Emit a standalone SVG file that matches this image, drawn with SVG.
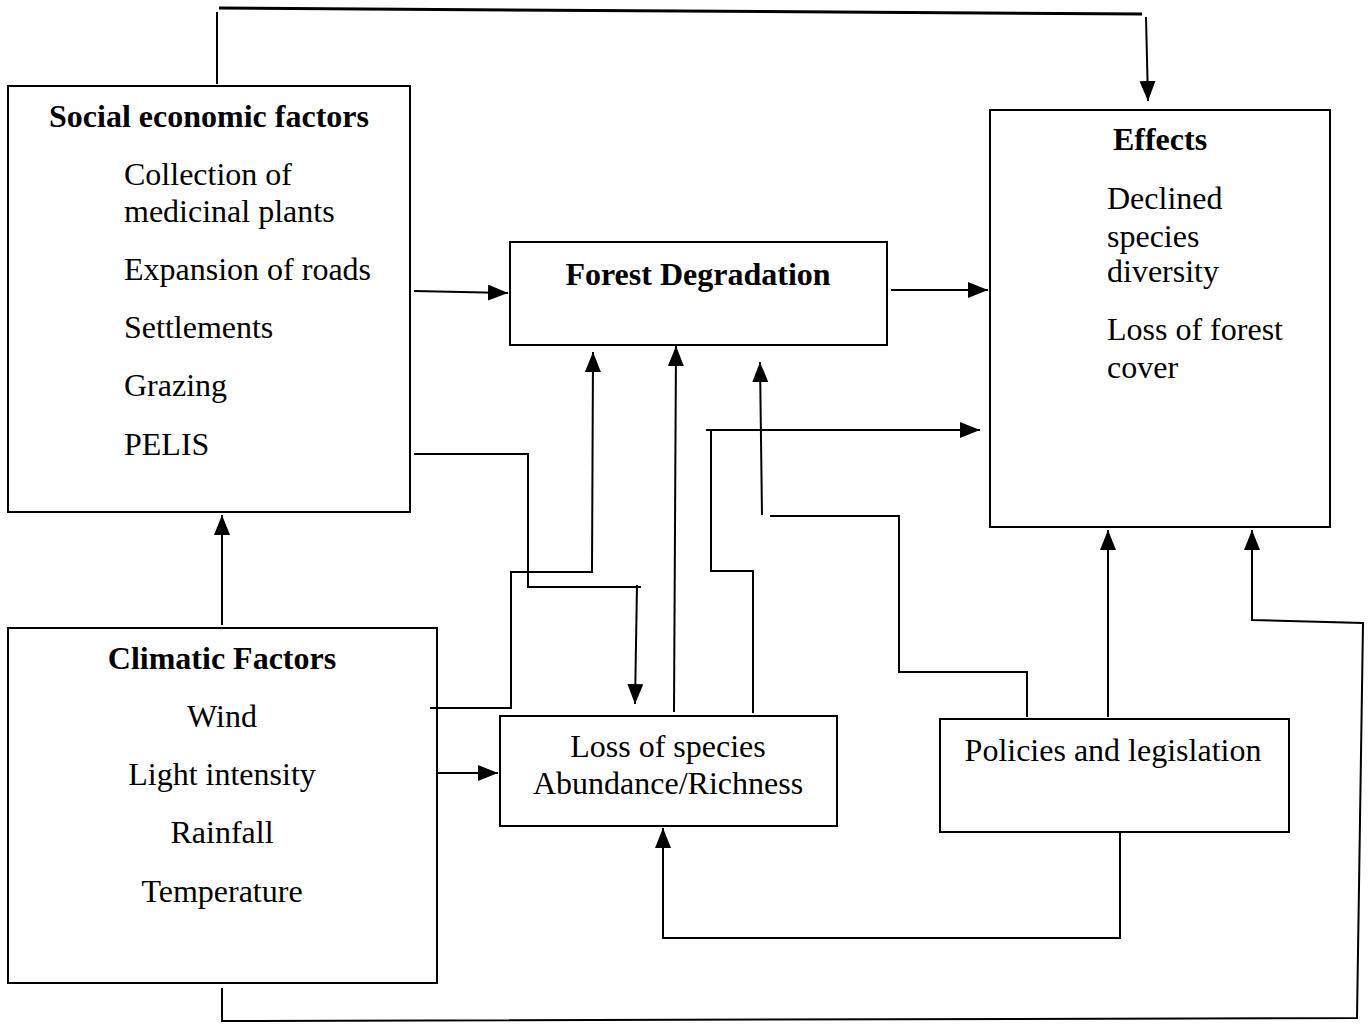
<svg xmlns="http://www.w3.org/2000/svg" width="1368" height="1025" viewBox="0 0 1368 1025">
<style>
.box{fill:#fff;stroke:#000;stroke-width:2}
.t{font-family:"Liberation Serif","Times New Roman",serif;font-size:32px;fill:#000}
.b{font-weight:bold}
.c{text-anchor:middle}
.ln{fill:none;stroke:#000;stroke-width:2}
</style>
<defs>
<marker id="ah" markerUnits="userSpaceOnUse" markerWidth="22" markerHeight="18" refX="20" refY="8" orient="auto">
<path d="M0,0 L20,8 L0,16 z" fill="#000"/>
</marker>
</defs>
<rect width="1368" height="1025" fill="#fff"/>
<g id="social">
<rect class="box" x="8" y="86" width="402" height="426"/>
<text class="t b c" x="209" y="127">Social economic factors</text>
<text class="t" x="124" y="185">Collection of</text>
<text class="t" x="124" y="222">medicinal plants</text>
<text class="t" x="124" y="280">Expansion of roads</text>
<text class="t" x="124" y="338">Settlements</text>
<text class="t" x="124" y="396">Grazing</text>
<text class="t" x="124" y="455">PELIS</text>
</g>
<g id="effects">
<rect class="box" x="990" y="110" width="340" height="417"/>
<text class="t b c" x="1160" y="150">Effects</text>
<text class="t" x="1107" y="209">Declined</text>
<text class="t" x="1107" y="247">species</text>
<text class="t" x="1107" y="282">diversity</text>
<text class="t" x="1107" y="340">Loss of forest</text>
<text class="t" x="1107" y="378">cover</text>
</g>
<g id="forest">
<rect class="box" x="510" y="242" width="377" height="103"/>
<text class="t b c" x="698" y="285">Forest Degradation</text>
</g>
<g id="climatic">
<rect class="box" x="8" y="628" width="429" height="355"/>
<text class="t b c" x="222" y="669">Climatic Factors</text>
<text class="t c" x="222" y="727">Wind</text>
<text class="t c" x="222" y="785">Light intensity</text>
<text class="t c" x="222" y="843">Rainfall</text>
<text class="t c" x="222" y="902">Temperature</text>
</g>
<g id="loss">
<rect class="box" x="500" y="716" width="337" height="110"/>
<text class="t c" x="668" y="757">Loss of species</text>
<text class="t c" x="668" y="794">Abundance/Richness</text>
</g>
<g id="policies">
<rect class="box" x="940" y="719" width="349" height="113"/>
<text class="t c" x="1113" y="761">Policies and legislation</text>
</g>
<g id="connectors">
<polyline class="ln" points="217,84 217,12"/>
<line class="ln" x1="219" y1="8" x2="1142" y2="14" style="stroke-width:3"/>
<line class="ln" x1="1146" y1="17" x2="1148" y2="101" marker-end="url(#ah)"/>
<line class="ln" x1="414" y1="291" x2="508" y2="293" marker-end="url(#ah)"/>
<line class="ln" x1="891" y1="290" x2="988" y2="290" marker-end="url(#ah)"/>
<polyline class="ln" points="414,454 528,454 528,587 641,587"/>
<line class="ln" x1="637" y1="585" x2="635" y2="704" marker-end="url(#ah)"/>
<polyline class="ln" points="430,708 511,708 511,572 592,572 593,352" marker-end="url(#ah)"/>
<line class="ln" x1="674" y1="712" x2="676" y2="346" marker-end="url(#ah)"/>
<polyline class="ln" points="753,713 753,571 711,571 711,430"/>
<line class="ln" x1="706" y1="430" x2="980" y2="430" marker-end="url(#ah)"/>
<polyline class="ln" points="1027,717 1027,672 899,672 899,516 770,516"/>
<line class="ln" x1="762" y1="515" x2="760" y2="362" marker-end="url(#ah)"/>
<line class="ln" x1="1108" y1="717" x2="1108" y2="530" marker-end="url(#ah)"/>
<polyline class="ln" points="222,988 222,1021 1357,1018 1363,623 1252,620 1252,530" marker-end="url(#ah)"/>
<polyline class="ln" points="1120,832 1120,938 663,938 663,828" marker-end="url(#ah)"/>
<line class="ln" x1="437" y1="773" x2="498" y2="773" marker-end="url(#ah)"/>
<line class="ln" x1="222" y1="625" x2="222" y2="515" marker-end="url(#ah)"/>
</g>
</svg>
